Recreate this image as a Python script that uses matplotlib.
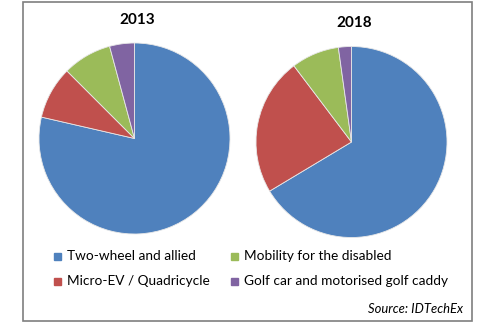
import matplotlib.pyplot as plt
from matplotlib.patches import Rectangle

plt.rcParams['font.family'] = ['Lato', 'DejaVu Sans']

segments = ['Two-wheel and allied', 'Micro-EV / Quadricycle',
            'Mobility for the disabled', 'Golf car and motorised golf caddy']
share_2013 = [78.6, 8.9, 8.3, 4.2]
share_2018 = [66.4, 23.3, 8.1, 2.2]
colors = ['#4F81BD', '#C0504D', '#9BBB59', '#8064A2']

W, H = 500, 322
fig = plt.figure(figsize=(W / 100, H / 100), dpi=100)


def px_axes(cx, cy, r):
    # square axes centred on (cx, cy) in pixel coords, y measured from top
    return fig.add_axes([(cx - r) / W, (H - cy - r) / H, 2 * r / W, 2 * r / H])


def px_text(x, y, s, **kw):
    fig.text(x / W, 1 - y / H, s, **kw)


# outer frame
fig.patches.append(Rectangle((23 / W, 1.5 / H), 449 / W, 319 / H,
                             transform=fig.transFigure, fill=False,
                             edgecolor='#7f7f7f', linewidth=1.2))

for (cx, cy), vals, year, ty in [((134.5, 138.5), share_2013, '2013', 20),
                                 ((351.5, 142), share_2018, '2018', 23)]:
    ax = px_axes(cx, cy, 95.5)
    ax.pie(vals, colors=colors, startangle=90, counterclock=False,
           wedgeprops=dict(edgecolor='#e8e8e8', linewidth=0.6))
    ax.set_xlim(-1, 1)
    ax.set_ylim(-1, 1)
    ax.set_aspect('equal')
    ax.axis('off')
    px_text(cx + 3, ty, year, ha='center', va='center',
            fontsize=11, fontweight='bold')

# legend, two columns
legend_pos = [(57, 256), (57, 281), (234, 256), (234, 281)]
for (x, y), name, c in zip(legend_pos, segments, colors):
    fig.patches.append(Rectangle(((x - 3.5) / W, 1 - (y + 3.5) / H), 7 / W, 7 / H,
                                 transform=fig.transFigure, color=c))
    px_text(x + 10, y, name, ha='left', va='center', fontsize=9.8)

px_text(463, 309, 'Source: IDTechEx', ha='right', va='center',
        fontsize=9.4, style='italic')

fig.savefig('out.png', dpi=100, facecolor='white')
